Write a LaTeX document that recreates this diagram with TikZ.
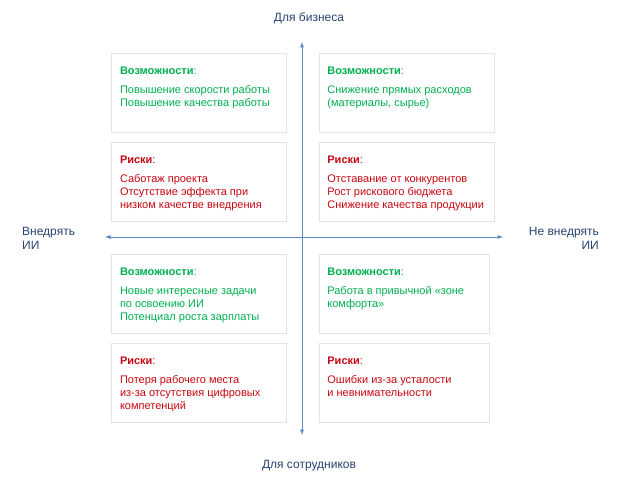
\documentclass[tikz,border=0pt]{standalone}
\usepackage{fontspec}
\setmainfont{Liberation Sans}
\usetikzlibrary{positioning,shadows}

\definecolor{oppgreen}{RGB}{0,176,80}
\definecolor{riskred}{RGB}{200,8,18}
\definecolor{axisblue}{RGB}{95,135,195}
\definecolor{labelblue}{RGB}{40,66,112}

\newcommand\boxtitle[1]{\textbf{#1}:}

\begin{document}
\begin{tikzpicture}[
    x=1pt, y=1pt,
    node distance = 10pt and 32pt,
    box/.style     = {draw=gray!22,
                      fill=white,
                      minimum width=175pt,
                      minimum height=79pt,
                      inner sep=0pt,
                      drop shadow={shadow xshift=0.6pt,
                                   shadow yshift=-0.6pt,
                                   opacity=0.12}},
    txt/.style     = {anchor=north west,
                      align=left,
                      inner sep=0pt,
                      font=\fontsize{11}{13}\selectfont},
    opp/.style     = {txt, text=oppgreen},
    risk/.style    = {txt, text=riskred},
    axis/.style    = {draw=axisblue,
                      line width=0.9pt,
                      latex-latex},
    axlabel/.style = {text=labelblue,
                      inner sep=0pt,
                      font=\fontsize{12}{14}\selectfont}
]
\useasboundingbox (0,0) rectangle (620,482);

% axes
\coordinate (xl) at (105,245);
\coordinate (xr) at (503,245);
\coordinate (yt) at (302,440);
\coordinate (yb) at (302,47);
\draw[axis] (xl) -- (xr);
\draw[axis] (yb) -- (yt);

\node (top)   [axlabel] at (309,464) {Для бизнеса};
\node (bot)   [axlabel] at (309,16)  {Для сотрудников};
\node (left)  [axlabel, align=left, anchor=west]   at (22,244)  {Внедрять\\ИИ};
\node (right) [axlabel, align=right, anchor=east]  at (599,244) {Не внедрять\\ИИ};

% boxes
\node (o1) [box] at (199,389.5) {};
\node (o2) [box, right=of o1] {};
\node (r1) [box, below=of o1] {};
\node (r2) [box, below=of o2] {};
\node (o3) [box, below=32pt of r1] {};
\node (r3) [box, below=of o3] {};
\node (o4) [box, minimum width=170pt, below=32pt of r2.south west, anchor=north west] {};
\node (r4) [box, minimum width=170pt, below=of o4] {};

% texts
\node (o1t) [opp] at ([shift={(8.5,-14)}]o1.north west) {
\boxtitle{Возможности}\\[6pt]
Повышение скорости работы\\
Повышение качества работы
};
\node (o2t) [opp] at ([shift={(8.5,-14)}]o2.north west) {
\boxtitle{Возможности}\\[6pt]
Снижение прямых расходов\\
(материалы, сырье)
};
\node (r1t) [risk] at ([shift={(8.5,-14)}]r1.north west) {
\boxtitle{Риски}\\[6pt]
Саботаж проекта\\
Отсутствие эффекта при\\
низком качестве внедрения
};
\node (r2t) [risk] at ([shift={(8.5,-14)}]r2.north west) {
\boxtitle{Риски}\\[6pt]
Отставание от конкурентов\\
Рост рискового бюджета\\
Снижение качества продукции
};
\node (o3t) [opp] at ([shift={(8.5,-14)}]o3.north west) {
\boxtitle{Возможности}\\[6pt]
Новые интересные задачи\\
по освоению ИИ\\
Потенциал роста зарплаты
};
\node (o4t) [opp] at ([shift={(8.5,-14)}]o4.north west) {
\boxtitle{Возможности}\\[6pt]
Работа в привычной «зоне\\
комфорта»
};
\node (r3t) [risk] at ([shift={(8.5,-14)}]r3.north west) {
\boxtitle{Риски}\\[6pt]
Потеря рабочего места\\
из-за отсутствия цифровых\\
компетенций
};
\node (r4t) [risk] at ([shift={(8.5,-14)}]r4.north west) {
\boxtitle{Риски}\\[6pt]
Ошибки из-за усталости\\
и невнимательности
};
\end{tikzpicture}
\end{document}
